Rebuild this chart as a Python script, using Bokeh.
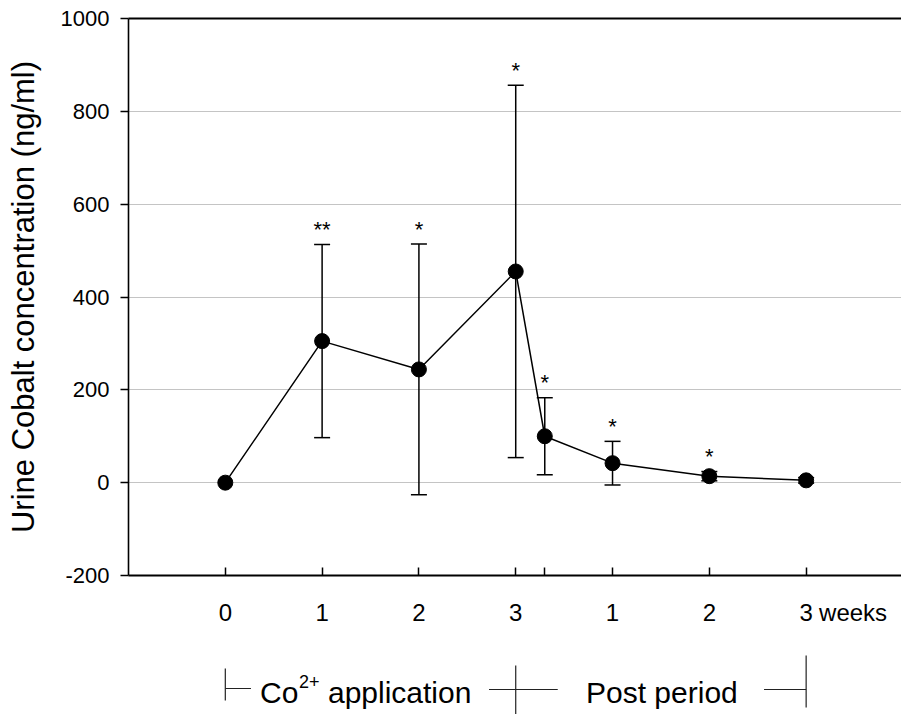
from bokeh.plotting import figure
from bokeh.models import (Range1d, FixedTicker, LinearAxis, Whisker, TeeHead,
                          ColumnDataSource)
from bokeh.layouts import column
from bokeh.core.properties import value
from bokeh.embed import file_html
from bokeh.resources import INLINE

# ---- data ----
weeks = [0, 1, 2, 3, 3.3, 4, 5, 6]
mean_conc = [0, 305, 244, 455, 100, 42, 14, 5]
sd_conc = [0, 208, 270, 401, 83, 47, 10, 6]
signif = ["", "**", "*", "*", "*", "*", "*", ""]
x_tick_vals = [0, 1, 2, 3, 4, 5, 6]
x_tick_text = ["0", "1", "2", "3", "1", "2", "3"]
unit_label = "weeks"
unit_label_pos = 6.485
y_tick_vals = [-200, 0, 200, 400, 600, 800, 1000]
y_tick_text = ["-200", "0", "200", "400", "600", "800", "1000"]
phase_labels = ["application", "Post period"]

FONT = "Liberation Sans"
W = 901

upper = [m + s for m, s in zip(mean_conc, sd_conc)]
lower = [m - s for m, s in zip(mean_conc, sd_conc)]

src = ColumnDataSource(dict(x=weeks, y=mean_conc, upper=upper, lower=lower, sig=signif))
err_idx = [i for i, s in enumerate(sd_conc) if s > 0]
err_src = ColumnDataSource(dict(x=[weeks[i] for i in err_idx],
                                upper=[upper[i] for i in err_idx],
                                lower=[lower[i] for i in err_idx]))

xr = Range1d(-1, 6.985)
p = figure(width=W, height=635, x_range=xr, y_range=Range1d(-200, 1000),
           output_backend="svg", toolbar_location=None,
           min_border_left=128, min_border_right=0, min_border_top=18,
           min_border_bottom=60)
p.outline_line_color = None
p.xgrid.visible = False
p.ygrid.ticker = FixedTicker(ticks=y_tick_vals)
p.ygrid.grid_line_color = "#c4c4c4"
p.ygrid.grid_line_width = 1

# y axis
ya = p.yaxis[0]
ya.ticker = FixedTicker(ticks=y_tick_vals)
ya.major_label_overrides = {v: t for v, t in zip(y_tick_vals, y_tick_text)}
ya.major_tick_in = 0
ya.major_tick_out = 8
ya.minor_tick_line_color = None
ya.axis_line_width = 1.6
ya.major_tick_line_width = 1.5
ya.major_label_text_font = FONT
ya.major_label_text_font_size = "22px"
ya.major_label_text_color = "black"
ya.major_label_standoff = 11
ya.axis_label = "Urine Cobalt concentration (ng/ml)"
ya.axis_label_text_font = FONT
ya.axis_label_text_font_size = "31px"
ya.axis_label_text_font_style = "normal"
ya.axis_label_text_color = "black"
ya.axis_label_standoff = 17

# x axis: labels from major ticks (marks hidden), marks from minor ticks
xa = p.xaxis[0]
xa.ticker = FixedTicker(ticks=x_tick_vals + [unit_label_pos],
                        minor_ticks=weeks)
overrides = {v: t for v, t in zip(x_tick_vals, x_tick_text)}
overrides[unit_label_pos] = unit_label
xa.major_label_overrides = overrides
xa.major_tick_line_color = None
xa.minor_tick_in = 8
xa.minor_tick_out = 0
xa.minor_tick_line_width = 1.5
xa.minor_tick_line_color = "black"
xa.axis_line_width = 2
xa.major_label_text_font = FONT
xa.major_label_text_font_size = "24px"
xa.major_label_text_color = "black"
xa.major_label_standoff = 17

# top line
top = LinearAxis(ticker=FixedTicker(ticks=[]), axis_line_width=2,
                 major_tick_line_color=None, minor_tick_line_color=None)
p.add_layout(top, "above")

# error bars
wh = Whisker(base="x", upper="upper", lower="lower", source=err_src,
             line_width=1.5, line_color="black",
             upper_head=TeeHead(size=16, line_width=1.5, line_color="black"),
             lower_head=TeeHead(size=16, line_width=1.5, line_color="black"))
p.add_layout(wh)

p.line("x", "y", source=src, line_color="black", line_width=1.5)
p.scatter("x", "y", source=src, size=15, color="black")
p.text("x", "upper", text="sig", source=src, text_font=value(FONT),
       text_font_size="22px", text_align="center", text_baseline="alphabetic",
       y_offset=-15, text_color="black")

# ---- phase bracket below ----
q = figure(width=W, height=79, x_range=xr, y_range=Range1d(714, 635),
           output_backend="svg", toolbar_location=None,
           x_axis_location=None, y_axis_location=None,
           min_border_left=128, min_border_right=0, min_border_top=0,
           min_border_bottom=0)
q.outline_line_color = None
q.grid.visible = False
q.segment(x0=[0, 0, 3, 2.724, 5.565, 6], y0=[668, 688, 665, 689, 689, 655],
          x1=[0, 0.265, 3, 3.434, 6, 6], y1=[700, 688, 714, 689, 689, 707],
          line_color="#222222", line_width=1.2)
q.text(x=[0.358], y=[692], text=["Co"], text_font=value(FONT),
       text_font_size="30px", text_baseline="alphabetic", text_color="black")
q.text(x=[0.358], y=[681], text=["2+"], x_offset=39, text_font=value(FONT),
       text_font_size="18px", text_baseline="alphabetic", text_color="black")
q.text(x=[0.358], y=[692], text=[phase_labels[0]], x_offset=68,
       text_font=value(FONT), text_font_size="30px",
       text_baseline="alphabetic", text_color="black")
q.text(x=[3.726], y=[692], text=[phase_labels[1]], text_font=value(FONT),
       text_font_size="30px", text_baseline="alphabetic", text_color="black")

layout = column(p, q, spacing=0)
open("out.html", "w").write(file_html(layout, INLINE))
